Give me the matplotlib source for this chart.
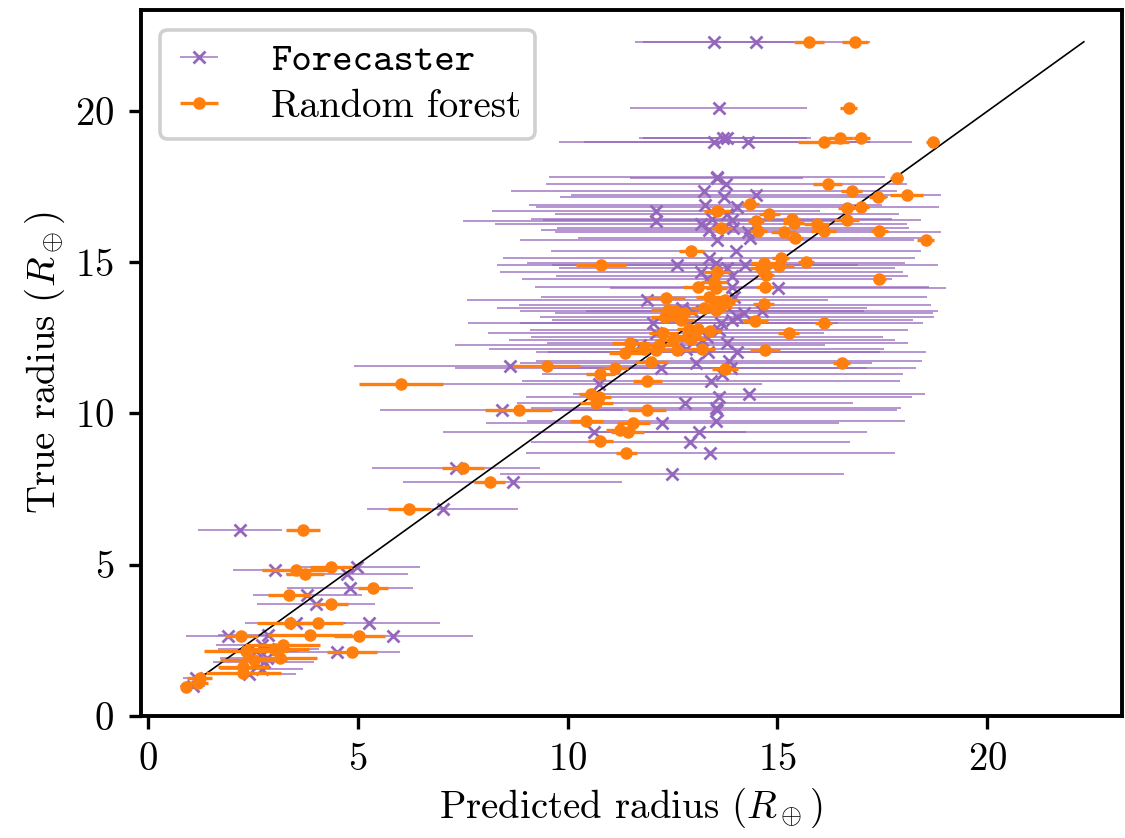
import matplotlib
matplotlib.use("Agg")
import matplotlib.pyplot as plt

# Forecaster predictions: predicted radius, true radius, error
f_pred = [13.5, 14.5, 13.6, 13.5, 13.7, 13.8, 14.3, 13.55,
          13.56, 13.78, 13.25, 13.73, 14.49, 13.28, 14.04, 12.11, 12.11, 13.44,
          13.8, 13.18, 13.92, 13.94, 14.3, 13.37, 13.56, 14.35, 14.01, 13.37,
          12.61, 13.54, 13.8, 14.23, 13.18, 13.92, 13.32, 13.92, 15.01, 11.9,
          13.97, 13.75, 12.73, 12.97, 14.2, 14.63, 14.04, 12.04, 13.92, 13.66,
          13.61, 12.11, 13.21, 13.32, 11.73, 12.83, 13.8, 14.04, 13.35, 13.85,
          13.06, 12.23, 13.9, 13.68, 10.74, 13.42, 14.32, 13.61, 12.8, 13.54,
          8.62, 8.43, 12.26, 10.64, 7.34, 8.69, 12.49, 7.03,
          13.56, 13.54, 13.14, 12.92, 13.4,
          2.19, 3.02, 4.75, 4.99, 4.82, 3.8, 4.01, 3.52, 5.27, 1.9, 2.87, 5.84,
          4.51, 2.73, 2.87, 2.57, 2.83, 2.76, 2.71, 2.42, 1.14, 1.07]
f_true = [22.3, 22.3, 20.1, 18.99, 19.12, 19.12, 18.99, 17.8,
          17.81, 17.58, 17.35, 17.15, 17.22, 16.89, 16.82, 16.69, 16.36, 16.42,
          16.59, 16.26, 16.39, 16.13, 16.0, 16.06, 15.73, 15.8, 15.36, 15.13,
          14.9, 14.97, 14.83, 14.9, 14.67, 14.54, 14.44, 14.17, 14.14, 13.77,
          13.84, 13.58, 13.48, 13.38, 13.34, 13.38, 13.18, 13.01, 13.08, 12.98,
          12.75, 12.65, 12.42, 12.52, 12.25, 12.12, 12.32, 12.05, 12.02, 11.75,
          11.66, 11.52, 11.49, 11.32, 10.99, 11.06, 10.66, 10.53, 10.33, 10.17,
          11.56, 10.1, 9.7, 9.4, 8.18, 7.72, 8.01, 6.85,
          10.1, 9.74, 9.4, 9.07, 8.7,
          6.16, 4.83, 4.7, 4.93, 4.24, 4.0, 3.68, 3.05, 3.05, 2.65, 2.68, 2.62,
          2.09, 2.35, 2.22, 2.15, 1.92, 1.76, 1.55, 1.39, 1.26, 0.99]
f_err = [1.9, 2.7, 2.1, 3.7, 2.0, 2.0, 3.9, 2.05,
         4.0, 4.3, 4.6, 3.9, 4.4, 4.2, 4.8, 3.9, 4.6, 4.3,
         4.1, 4.9, 4.5, 4.2, 4.6, 4.0, 4.7, 4.1, 4.4, 4.9,
         4.3, 4.5, 4.0, 4.6, 4.8, 4.2, 4.4, 4.7, 4.0, 4.3,
         4.6, 4.9, 4.4, 4.1, 4.5, 4.2, 4.7, 4.4, 4.3, 4.8,
         4.5, 4.0, 4.6, 4.2, 4.4, 4.7, 4.3, 4.5, 4.1, 4.6,
         4.2, 4.9, 4.4, 4.3, 3.9, 4.5, 4.2, 4.6, 4.0, 4.4,
         3.7, 2.9, 4.2, 3.6, 2.0, 2.6, 4.1, 1.8,
         4.3, 4.5, 4.0, 3.8, 4.4,
         1.0, 1.0, 1.45, 1.5, 1.5, 1.3, 1.4, 1.2, 1.7, 1.0, 1.2, 1.9,
         1.5, 1.1, 1.2, 1.0, 1.1, 1.2, 1.0, 1.1, 0.3, 0.3]

# Random forest predictions
rf_pred = [15.75, 16.85, 16.7, 16.1, 16.5, 17.0, 18.7, 17.84,
           16.2, 16.77, 17.39, 18.08, 14.35, 14.8, 13.56, 14.49, 15.34, 15.39,
           16.65, 16.98, 16.65, 15.94, 16.1, 13.66, 14.54, 15.15, 15.42, 17.43,
           18.53, 12.95, 10.8, 15.08, 15.68, 14.68, 14.6, 15.04, 17.43, 14.73,
           13.56, 13.11, 13.49, 13.54, 14.7, 12.35, 13.37, 13.75, 14.68, 12.4,
           12.57, 12.78, 13.25, 13.53, 13.61, 13.68, 12.33, 12.71, 14.47, 16.1,
           12.9, 13.11, 13.4, 12.28, 12.87, 15.27, 12.52, 12.95, 11.5, 12.19,
           12.11, 11.38, 11.83, 12.61, 13.21, 14.7, 12.0, 11.14, 10.78, 16.53,
           13.75, 11.9, 10.57, 10.74, 10.69,
           9.5, 6.03, 8.84, 11.9, 10.45, 11.57, 11.26, 11.43, 10.78, 11.4,
           7.5, 8.15, 6.22,
           3.7, 3.52, 3.75, 4.37, 5.37, 3.37, 4.37, 3.4, 4.06, 2.23, 3.87, 5.04,
           4.87, 3.21, 3.04, 2.35, 3.14, 2.52, 2.28, 2.28, 1.24, 1.19, 0.9]
rf_true = [22.3, 22.3, 20.1, 18.99, 19.12, 19.12, 18.99, 17.8,
           17.58, 17.35, 17.15, 17.22, 16.92, 16.59, 16.69, 16.36, 16.42, 16.29,
           16.79, 16.82, 16.39, 16.26, 16.03, 16.13, 16.03, 16.0, 15.8, 16.03,
           15.73, 15.36, 14.9, 15.13, 15.0, 14.97, 14.83, 14.87, 14.44, 14.57,
           14.67, 14.2, 14.34, 14.14, 14.2, 13.81, 13.85, 13.74, 13.61, 13.44,
           13.38, 13.34, 13.48, 13.41, 13.51, 13.64, 13.18, 13.08, 13.05, 12.98,
           12.81, 12.78, 12.72, 12.65, 12.58, 12.65, 12.42, 12.45, 12.32, 12.25,
           12.09, 11.99, 12.12, 12.09, 12.12, 12.09, 11.69, 11.52, 11.32, 11.66,
           11.46, 11.06, 10.66, 10.56, 10.33,
           11.56, 10.99, 10.1, 10.1, 9.74, 9.7, 9.44, 9.4, 9.1, 8.7,
           8.18, 7.72, 6.85,
           6.16, 4.83, 4.7, 4.93, 4.24, 4.0, 3.68, 3.05, 3.05, 2.65, 2.68, 2.62,
           2.09, 2.35, 2.22, 2.15, 1.92, 1.85, 1.62, 1.42, 1.26, 1.09, 0.96]
rf_err = [0.35, 0.3, 0.2, 0.6, 0.3, 0.2, 0.15, 0.15,
          0.35, 0.25, 0.2, 0.4, 0.2, 0.25, 0.3, 0.2, 0.2, 0.25,
          0.2, 0.2, 0.3, 0.3, 0.3, 0.25, 0.2, 0.3, 0.2, 0.2,
          0.2, 0.3, 0.6, 0.2, 0.2, 0.3, 0.25, 0.35, 0.15, 0.2,
          0.3, 0.35, 0.3, 0.25, 0.2, 0.45, 0.3, 0.3, 0.25, 0.4,
          0.35, 0.3, 0.3, 0.25, 0.3, 0.3, 0.35, 0.3, 0.3, 0.2,
          0.3, 0.3, 0.25, 0.35, 0.3, 0.25, 0.4, 0.35, 0.45, 0.35,
          0.4, 0.4, 0.35, 0.3, 0.3, 0.35, 0.4, 0.3, 0.35, 0.2,
          0.3, 0.35, 0.3, 0.3, 0.4,
          0.8, 1.0, 0.8, 0.45, 0.4, 0.4, 0.35, 0.4, 0.3, 0.25,
          0.5, 0.37, 0.5,
          0.4, 0.8, 0.45, 0.5, 0.35, 0.5, 0.4, 0.8, 0.6, 0.4, 1.0, 0.6,
          0.6, 0.9, 0.8, 1.0, 0.9, 0.8, 0.6, 0.9, 0.3, 0.25, 0.1]

one_to_one = [1.3, 22.3]

plt.rcParams['font.family'] = ['cmr10', 'DejaVu Serif']
plt.rcParams['mathtext.fontset'] = 'cm'
plt.rcParams['axes.formatter.use_mathtext'] = True
plt.rcParams['font.size'] = 28

fig = plt.figure(figsize=(11.25, 8.38), dpi=100)
ax = fig.add_axes([0.125, 0.146, 0.872, 0.842])

purple = '#9467bd'
orange = '#ff7f0e'

ax.errorbar(f_pred, f_true, xerr=f_err, fmt='x', color=purple, ms=8.5, mew=2.0,
            ecolor=(0.58, 0.40, 0.74, 0.75), elinewidth=1.3, zorder=2,
            label='Forecaster')
ax.plot(one_to_one, one_to_one, color='black', lw=1.2, zorder=3)
ax.errorbar(rf_pred, rf_true, xerr=rf_err, fmt='o', color=orange, ms=8,
            elinewidth=2.4, zorder=4, label='Random forest')

ax.set_xlim(-0.17, 23.2)
ax.set_ylim(0, 23.35)
ax.set_xticks([0, 5, 10, 15, 20])
ax.set_yticks([0, 5, 10, 15, 20])
ax.set_xlabel(r'Predicted radius ($R_\oplus$)', labelpad=6)
ax.set_ylabel(r'True radius ($R_\oplus$)', labelpad=6)

for s in ax.spines.values():
    s.set_linewidth(2.8)
ax.tick_params(direction='out', length=9, width=2.4, pad=10, labelsize=28)

leg = ax.legend(loc='upper left', handlelength=1.3, fancybox=True,
                framealpha=1.0, edgecolor='#d0d0d0', borderpad=0.35,
                labelspacing=0.25, handletextpad=1.2)
leg.get_frame().set_linewidth(2.6)
leg.get_texts()[0].set_fontfamily(['cmtt10', 'DejaVu Sans Mono'])

fig.savefig('out.png', dpi=100)
